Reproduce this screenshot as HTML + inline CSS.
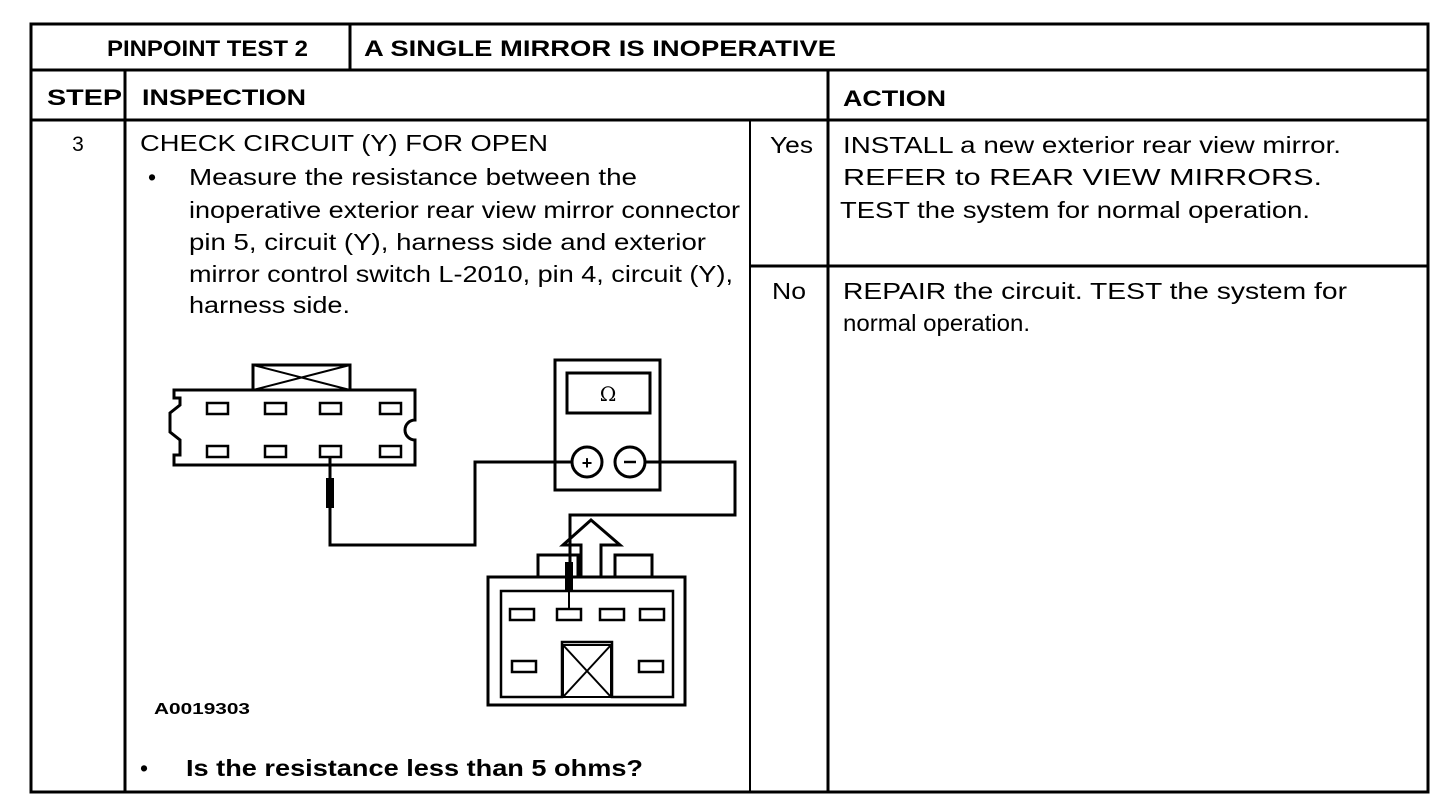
<!DOCTYPE html>
<html><head><style>
html,body{margin:0;padding:0;background:#fff;}
svg{display:block;}
text{font-family:"Liberation Sans",Arial,sans-serif;fill:#000;}
.b{font-weight:bold;}
</style></head><body>
<svg width="1456" height="806" viewBox="0 0 1456 806" xmlns="http://www.w3.org/2000/svg">
<g stroke="#000" fill="none">
<rect x="31" y="24" width="1397" height="768" stroke-width="3"/>
<line x1="31" y1="70" x2="1428" y2="70" stroke-width="3"/>
<line x1="31" y1="120" x2="1428" y2="120" stroke-width="3"/>
<line x1="350" y1="24" x2="350" y2="70" stroke-width="3"/>
<line x1="125" y1="70" x2="125" y2="792" stroke-width="3"/>
<line x1="828" y1="70" x2="828" y2="792" stroke-width="3"/>
<line x1="750" y1="120" x2="750" y2="792" stroke-width="2"/>
<line x1="750" y1="266" x2="1428" y2="266" stroke-width="3"/>
</g>
<g lengthAdjust="spacingAndGlyphs">
<text x="107" y="56" font-size="22" class="b" textLength="201" lengthAdjust="spacingAndGlyphs">PINPOINT TEST 2</text>
<text x="364" y="56" font-size="22" class="b" textLength="472" lengthAdjust="spacingAndGlyphs">A SINGLE MIRROR IS INOPERATIVE</text>
<text x="47" y="105" font-size="22" class="b" textLength="75" lengthAdjust="spacingAndGlyphs">STEP</text>
<text x="142" y="105" font-size="22" class="b" textLength="164" lengthAdjust="spacingAndGlyphs">INSPECTION</text>
<text x="843" y="106" font-size="22" class="b" textLength="103" lengthAdjust="spacingAndGlyphs">ACTION</text>
</g>
<text x="78" y="151" font-size="21" text-anchor="middle">3</text>
<g font-size="23">
<text x="140" y="151" textLength="408" lengthAdjust="spacingAndGlyphs">CHECK CIRCUIT (Y) FOR OPEN</text>
<text x="148" y="185">•</text>
<text x="189" y="185" textLength="448" lengthAdjust="spacingAndGlyphs">Measure the resistance between the</text>
<text x="189" y="218" textLength="551" lengthAdjust="spacingAndGlyphs">inoperative exterior rear view mirror connector</text>
<text x="189" y="250" textLength="517" lengthAdjust="spacingAndGlyphs">pin 5, circuit (Y), harness side and exterior</text>
<text x="189" y="282" textLength="544" lengthAdjust="spacingAndGlyphs">mirror control switch L-2010, pin 4, circuit (Y),</text>
<text x="189" y="313" textLength="161" lengthAdjust="spacingAndGlyphs">harness side.</text>
<text x="770" y="153" textLength="43" lengthAdjust="spacingAndGlyphs">Yes</text>
<text x="772" y="299" textLength="34" lengthAdjust="spacingAndGlyphs">No</text>
<text x="843" y="153" textLength="498" lengthAdjust="spacingAndGlyphs">INSTALL a new exterior rear view mirror.</text>
<text x="843" y="185" textLength="479" lengthAdjust="spacingAndGlyphs">REFER to REAR VIEW MIRRORS.</text>
<text x="840" y="218" textLength="470" lengthAdjust="spacingAndGlyphs">TEST the system for normal operation.</text>
<text x="843" y="299" textLength="504" lengthAdjust="spacingAndGlyphs">REPAIR the circuit.  TEST the system for</text>
<text x="843" y="331" textLength="187" lengthAdjust="spacingAndGlyphs">normal operation.</text>
<text x="140" y="776">•</text>
<text x="186" y="776" class="b" textLength="457" lengthAdjust="spacingAndGlyphs">Is the resistance less than 5 ohms?</text>
</g>
<text x="154" y="714" font-size="16" class="b" textLength="96" lengthAdjust="spacingAndGlyphs">A0019303</text>
<g stroke="#000" fill="none" stroke-width="3">
<path d="M174 390 H415 V420 A10 10 0 0 0 415 440 V465 H174 V455 H180 V440 L170 432 V413 L180 405 V398 H174 Z"/>
<rect x="253" y="365" width="97" height="25"/>
<path d="M253 365 L350 390 M350 365 L253 390" stroke-width="2"/>
<g stroke-width="2.5">
<rect x="207" y="403" width="21" height="11"/><rect x="265" y="403" width="21" height="11"/><rect x="320" y="403" width="21" height="11"/><rect x="380" y="403" width="21" height="11"/>
<rect x="207" y="446" width="21" height="11"/><rect x="265" y="446" width="21" height="11"/><rect x="320" y="446" width="21" height="11"/><rect x="380" y="446" width="21" height="11"/>
</g>
<path d="M330 457 V545 H475 V462 H572"/>
<path d="M645 462 H735 V515 H570 V575"/>
<rect x="555" y="360" width="105" height="130"/>
<rect x="567" y="373" width="83" height="40"/>
<circle cx="587" cy="462" r="15"/><circle cx="630" cy="462" r="15"/>
<rect x="488" y="577" width="197" height="128"/>
<path d="M501 591 H673 V697 H612 V642 H562 V697 H501 Z" stroke-width="2.5"/>
<path d="M538 577 V555 H578 V577 M615 577 V555 H652 V577"/>
<path d="M581 577 V545 H563 L591 520 L620 545 H601 V577"/>
<rect x="563" y="645" width="48" height="52" stroke-width="2"/>
<path d="M563 645 L611 697 M611 645 L563 697" stroke-width="2"/>
<g stroke-width="2.5">
<rect x="510" y="609" width="24" height="11"/><rect x="557" y="609" width="24" height="11"/><rect x="600" y="609" width="24" height="11"/><rect x="640" y="609" width="24" height="11"/>
<rect x="512" y="661" width="24" height="11"/><rect x="639" y="661" width="24" height="11"/>
</g>
<line x1="569" y1="590" x2="569" y2="609" stroke-width="2"/>
</g>
<rect x="326" y="478" width="8" height="30" fill="#000"/>
<rect x="565" y="562" width="8" height="28" fill="#000"/>
<text x="608" y="401" font-size="20" text-anchor="middle" style="font-family:'DejaVu Serif',serif">Ω</text>
<text x="587" y="469" font-size="18" text-anchor="middle" class="b">+</text>
<line x1="624" y1="462" x2="636" y2="462" stroke="#000" stroke-width="2.5"/>
</svg>
</body></html>
